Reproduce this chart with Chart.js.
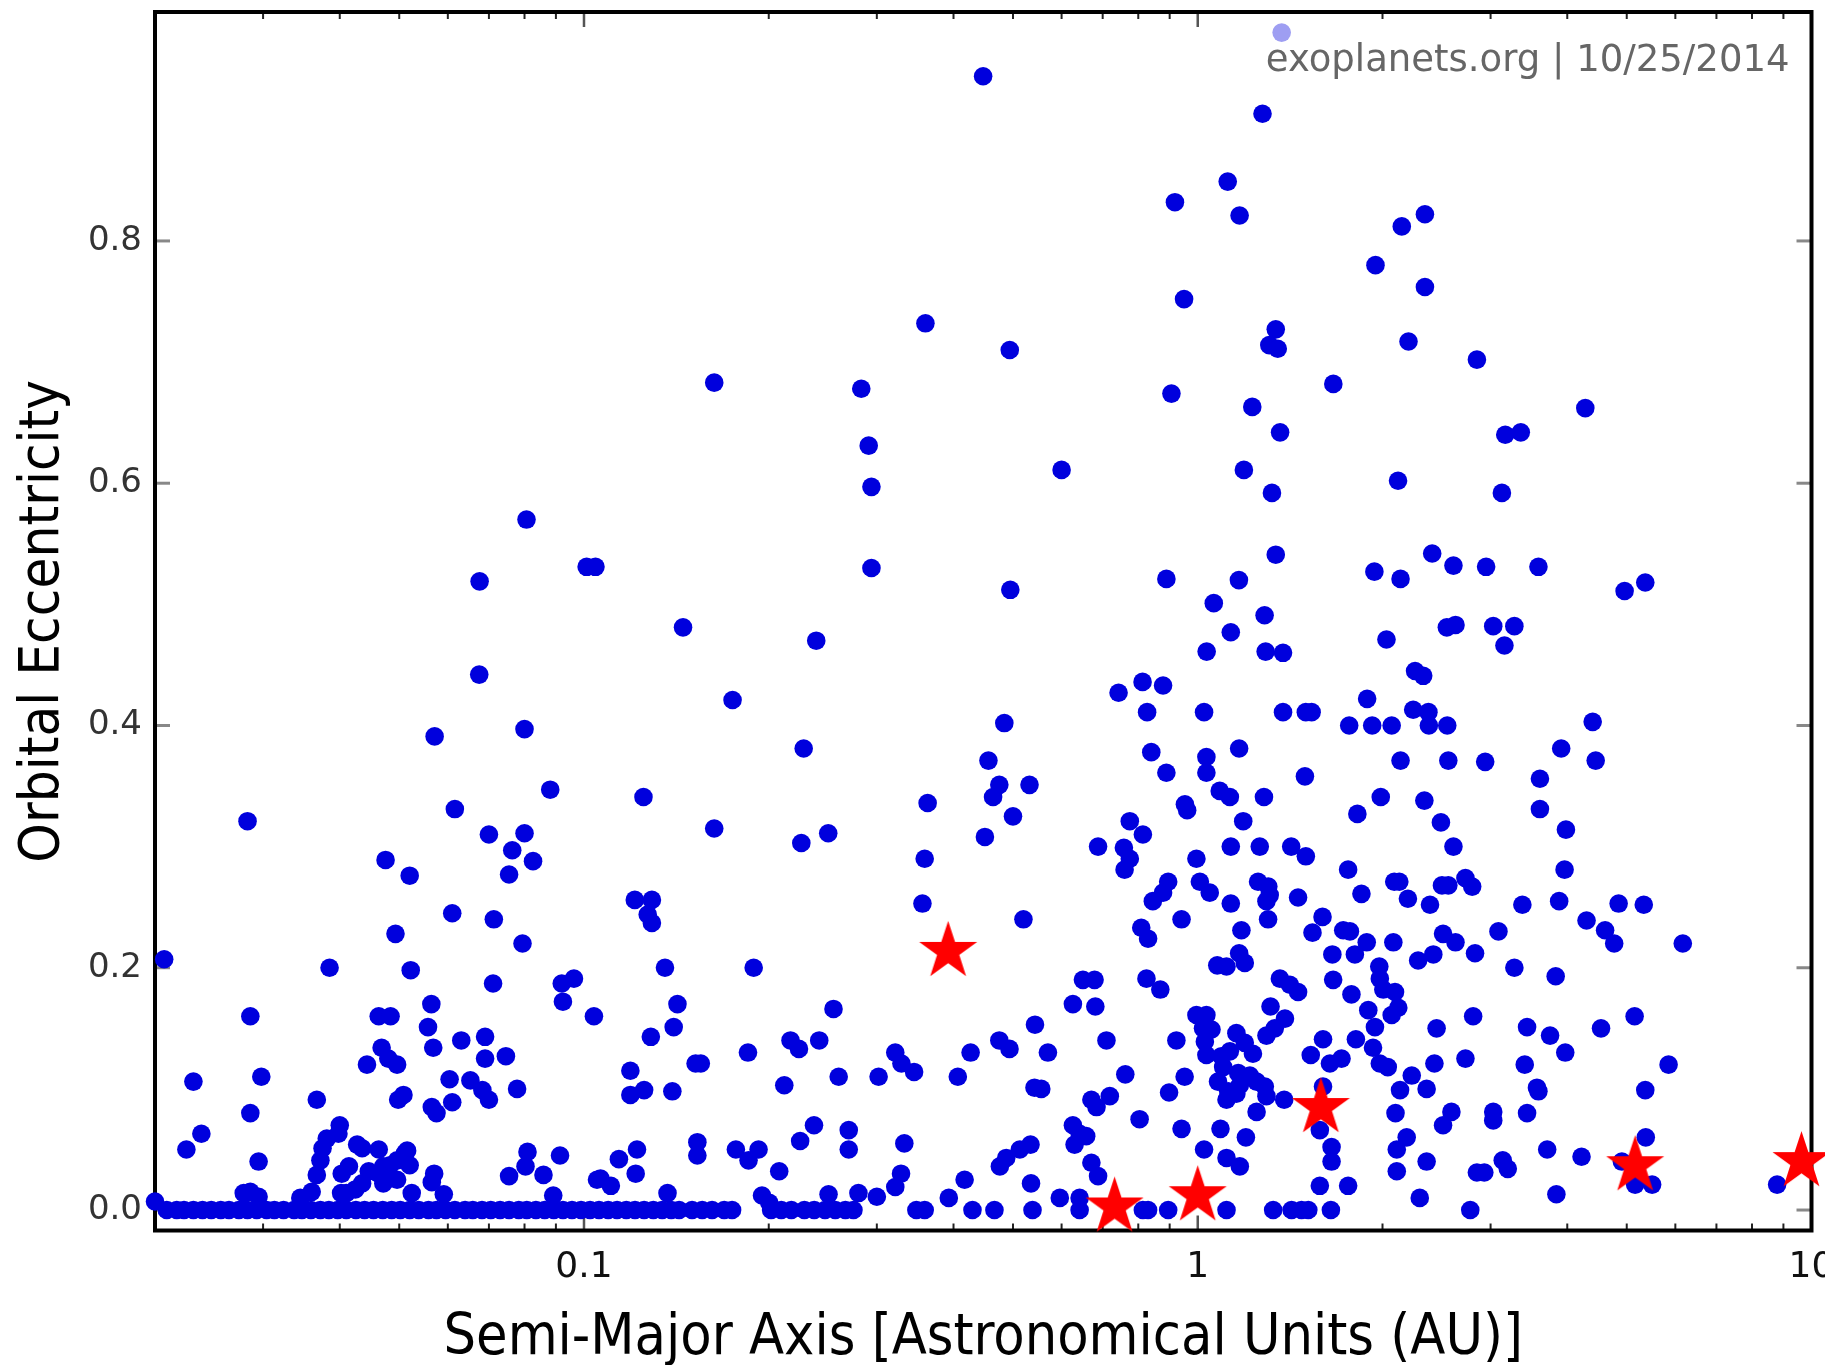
<!DOCTYPE html>
<html>
<head>
<meta charset="utf-8">
<script src="https://cdn.jsdelivr.net/npm/chart.js@4.4.1/dist/chart.umd.min.js"></script>
<style>
  html, body { margin: 0; padding: 0; background: #fff; }
  #wrap { width: 1825px; height: 1365px; }
</style>
</head>
<body>
<div id="wrap"><canvas id="eccChart"></canvas></div>
<script>
// semi-major axis (AU) / eccentricity
const semiMajorAxis = [
  // upper part
  0.447, 0.360, 0.163, 0.283, 0.291, 0.294, 1.275, 1.119, 0.918, 1.170,
  2.345, 2.15, 1.948, 2.345, 0.950, 1.340, 1.308, 1.350, 0.494, 2.205,
  2.85, 0.906, 1.663, 1.227, 4.28, 1.362, 3.17, 3.36, 0.600, 1.189,
  2.12, 1.321, 3.13, 1.370,
  // short periods, e 0.25-0.6
  0.0806, 0.101, 0.1044, 0.0676, 0.0675, 0.0800, 0.0571, 0.0881, 0.0616, 0.0283,
  0.070, 0.080, 0.0764, 0.0826, 0.0755, 0.0475, 0.052,
  0.294, 0.495, 0.145, 0.239, 0.1746, 0.484, 0.228, 0.456, 0.475, 0.532,
  0.464, 0.363, 0.125, 0.500, 0.163, 0.226, 0.250, 0.450, 0.359, 0.356,
  // around 1 AU, e 0.25-0.55
  1.34, 2.41, 2.61, 2.95, 1.94, 2.14, 0.889, 1.167, 1.062, 1.285,
  1.132, 2.546, 2.63, 2.03, 1.034, 1.29, 1.377, 2.26, 2.33, 0.813,
  0.878, 0.743, 1.888, 0.827, 1.024, 1.377, 1.50, 1.533, 2.244, 2.376,
  1.765, 1.924, 2.07, 2.38, 2.55, 1.168, 0.840, 1.033, 2.14, 2.56,
  2.94, 0.889, 1.033, 1.495, 1.086, 1.128, 1.282, 1.987, 2.34, 0.953,
  0.961, 1.82, 1.186, 2.49, 0.775, 0.814, 0.688, 0.758, 0.775, 0.760,
  1.132, 1.262, 1.42, 1.50, 2.61, 0.995, 1.758, 2.09, 2.13, 2.50,
  2.56, 2.73, 2.80, 0.895, 0.878, 0.845, 1.008, 1.046, 1.254, 1.303,
  1.31, 1.294, 1.457, 1.132, 1.848, 2.20, 2.39,
  3.59, 4.96, 5.36, 3.03, 3.28, 3.16, 4.40, 3.91, 4.45, 3.61,
  3.61, 3.98, 3.96, 3.38, 3.88, 4.85, 5.33,
  // hot jupiters, e < 0.25
  0.061, 0.0713, 0.0493, 0.0794, 0.0207, 0.0385, 0.0522, 0.0711, 0.092, 0.0963,
  0.0924, 0.1038, 0.0286, 0.0463, 0.0484, 0.0564, 0.0557, 0.0568, 0.0631, 0.069,
  0.069, 0.0746, 0.0468, 0.048, 0.0496, 0.0443, 0.0604, 0.0653, 0.0683, 0.070,
  0.0778, 0.0367, 0.0498, 0.0508, 0.061, 0.0565, 0.0575, 0.0231, 0.0298, 0.0286,
  0.040, 0.0398, 0.0381, 0.0375, 0.0372, 0.0367, 0.0360, 0.0345, 0.0238, 0.0225,
  0.0295, 0.0286, 0.0279, 0.0295, 0.0427, 0.0435, 0.0463, 0.0515, 0.0414, 0.0403,
  0.0446, 0.0471, 0.0483, 0.0496, 0.0511, 0.0520, 0.0463, 0.0483, 0.0496, 0.0471,
  0.0435, 0.0424, 0.041, 0.0402, 0.0524, 0.057, 0.0565, 0.0591, 0.0809, 0.0803,
  0.0755, 0.0859, 0.0914, 0.0891, 0.105, 0.020,
  // 0.1 - 0.55 AU, e < 0.26
  0.121, 0.129, 0.127, 0.129, 0.520, 0.1355, 0.189, 0.142, 0.140, 0.1285,
  0.255, 0.543, 0.119, 0.119, 0.1253, 0.1393, 0.152, 0.155, 0.185, 0.212,
  0.217, 0.224, 0.2417, 0.260, 0.302, 0.3215, 0.329, 0.345, 0.4065, 0.4265,
  0.475, 0.4935, 0.542, 0.114, 0.122, 0.1214, 0.1064, 0.1106, 0.1368, 0.153,
  0.153, 0.1768, 0.1854, 0.1925, 0.208, 0.225, 0.237, 0.270, 0.270, 0.3326,
  0.3285, 0.3215, 0.280, 0.300, 0.195, 0.2004, 0.2503, 0.393, 0.417, 0.476,
  0.4875, 0.513, 0.534, 0.535,
  // 0.55 - 3 AU, e < 0.25
  0.941, 1.302, 0.809, 0.830, 1.178, 1.597, 1.538, 1.726, 1.77, 1.885,
  1.803, 2.083, 2.51, 2.63, 2.83, 1.657, 2.286, 2.42, 1.976, 1.980,
  2.006, 2.096, 2.122, 2.07, 1.944, 1.896, 1.114, 1.168, 1.193, 0.650,
  0.679, 0.825, 0.869, 0.626, 0.681, 0.710, 0.570, 0.556, 0.762, 0.671,
  0.684, 0.719, 0.804, 0.626, 0.642, 0.658, 0.630, 0.671, 0.688, 0.596,
  0.642, 0.923, 0.952, 0.898, 0.941, 1.024, 1.089, 1.198, 1.114, 1.171,
  1.581, 1.758, 1.652, 1.652, 1.581, 1.60, 1.528, 1.60, 1.642, 1.715,
  1.81, 1.93, 1.98, 2.04, 2.136, 2.232, 2.36, 2.43, 2.10, 2.59,
  2.51, 2.19, 2.11, 2.36, 2.11, 2.30, 2.85, 0.995, 1.033, 1.020,
  1.053, 1.027, 1.033, 1.093, 1.10, 1.079, 1.114, 1.128, 1.156, 1.193,
  1.23, 1.164, 1.216, 1.171, 1.247, 1.286, 1.294, 1.247, 1.156, 1.121,
  1.314, 1.387, 1.294, 1.335, 1.361, 1.413, 1.457, 1.383, 1.076, 1.662,
  1.78, 2.45, 2.73, 2.81,
  // beyond 3 AU, e < 0.25
  3.09, 4.30, 4.61, 4.77, 6.17, 3.28, 3.83, 3.44, 3.75, 3.97,
  4.54, 5.15, 3.41, 5.85, 3.57, 3.59, 5.36, 3.03, 3.03, 3.44,
  5.37, 3.71, 4.22, 3.14, 3.20, 2.93, 3.84, 4.91, 5.16, 5.50,
  8.79
];

const eccentricity = [
  0.936, 0.732, 0.683, 0.678, 0.631, 0.597, 0.905, 0.849, 0.832, 0.821,
  0.822, 0.812, 0.780, 0.762, 0.752, 0.727, 0.714, 0.711, 0.710, 0.717,
  0.702, 0.674, 0.682, 0.663, 0.662, 0.642, 0.640, 0.642, 0.611, 0.611,
  0.602, 0.592, 0.592, 0.972,
  0.570, 0.531, 0.531, 0.519, 0.442, 0.397, 0.391, 0.347, 0.331, 0.321,
  0.310, 0.311, 0.297, 0.288, 0.277, 0.289, 0.276,
  0.530, 0.512, 0.481, 0.470, 0.421, 0.402, 0.381, 0.371, 0.351, 0.351,
  0.341, 0.336, 0.341, 0.325, 0.315, 0.303, 0.311, 0.308, 0.290, 0.253,
  0.541, 0.542, 0.532, 0.531, 0.527, 0.521, 0.521, 0.520, 0.501, 0.491,
  0.477, 0.481, 0.483, 0.471, 0.461, 0.461, 0.460, 0.445, 0.441, 0.436,
  0.433, 0.427, 0.422, 0.411, 0.411, 0.411, 0.411, 0.411, 0.413, 0.411,
  0.400, 0.400, 0.400, 0.400, 0.400, 0.381, 0.378, 0.374, 0.371, 0.371,
  0.370, 0.361, 0.361, 0.358, 0.346, 0.341, 0.341, 0.341, 0.338, 0.335,
  0.330, 0.327, 0.321, 0.320, 0.321, 0.310, 0.300, 0.299, 0.290, 0.281,
  0.300, 0.300, 0.300, 0.292, 0.300, 0.290, 0.281, 0.271, 0.271, 0.268,
  0.268, 0.274, 0.267, 0.271, 0.262, 0.255, 0.271, 0.262, 0.271, 0.267,
  0.260, 0.255, 0.258, 0.253, 0.261, 0.257, 0.252,
  0.531, 0.511, 0.518, 0.482, 0.482, 0.466, 0.403, 0.381, 0.371, 0.356,
  0.331, 0.314, 0.281, 0.252, 0.255, 0.253, 0.252,
  0.245, 0.240, 0.228, 0.220, 0.207, 0.200, 0.198, 0.187, 0.187, 0.191,
  0.172, 0.160, 0.160, 0.160, 0.160, 0.170, 0.151, 0.134, 0.140, 0.143,
  0.125, 0.127, 0.134, 0.125, 0.120, 0.120, 0.108, 0.107, 0.099, 0.091,
  0.100, 0.091, 0.091, 0.095, 0.089, 0.085, 0.080, 0.106, 0.110, 0.080,
  0.070, 0.063, 0.059, 0.051, 0.041, 0.029, 0.015, 0.010, 0.063, 0.050,
  0.040, 0.015, 0.014, 0.011, 0.054, 0.051, 0.050, 0.049, 0.036, 0.030,
  0.032, 0.036, 0.037, 0.041, 0.047, 0.037, 0.030, 0.026, 0.025, 0.022,
  0.022, 0.017, 0.014, 0.014, 0.014, 0.030, 0.023, 0.013, 0.048, 0.036,
  0.028, 0.029, 0.045, 0.012, 0.025, 0.007,
  0.256, 0.256, 0.244, 0.237, 0.240, 0.200, 0.200, 0.170, 0.151, 0.143,
  0.166, 0.153, 0.115, 0.095, 0.099, 0.098, 0.121, 0.121, 0.130, 0.103,
  0.140, 0.133, 0.140, 0.110, 0.110, 0.130, 0.121, 0.114, 0.110, 0.130,
  0.140, 0.133, 0.101, 0.042, 0.050, 0.030, 0.026, 0.020, 0.014, 0.056,
  0.045, 0.050, 0.041, 0.050, 0.032, 0.057, 0.070, 0.066, 0.050, 0.055,
  0.030, 0.019, 0.014, 0.011, 0.012, 0.006, 0.013, 0.010, 0.025, 0.036,
  0.043, 0.050, 0.054, 0.022,
  0.240, 0.240, 0.233, 0.224, 0.231, 0.242, 0.229, 0.231, 0.230, 0.221,
  0.211, 0.221, 0.228, 0.221, 0.212, 0.211, 0.206, 0.211, 0.201, 0.191,
  0.182, 0.180, 0.167, 0.161, 0.151, 0.165, 0.201, 0.212, 0.204, 0.190,
  0.190, 0.191, 0.182, 0.170, 0.168, 0.140, 0.130, 0.100, 0.112, 0.091,
  0.085, 0.094, 0.075, 0.070, 0.063, 0.061, 0.054, 0.039, 0.028, 0.010,
  0.010, 0.140, 0.110, 0.097, 0.067, 0.050, 0.067, 0.060, 0.043, 0.036,
  0.020, 0.020, 0.052, 0.040, 0.066, 0.102, 0.128, 0.141, 0.121, 0.125,
  0.141, 0.134, 0.121, 0.118, 0.099, 0.111, 0.100, 0.121, 0.080, 0.081,
  0.070, 0.060, 0.050, 0.040, 0.032, 0.010, 0.031, 0.161, 0.161, 0.150,
  0.149, 0.139, 0.128, 0.127, 0.118, 0.106, 0.091, 0.131, 0.146, 0.138,
  0.129, 0.113, 0.111, 0.103, 0.106, 0.102, 0.094, 0.081, 0.096, 0.098,
  0.168, 0.158, 0.144, 0.150, 0.191, 0.186, 0.180, 0.091, 0.202, 0.190,
  0.178, 0.150, 0.125, 0.160,
  0.230, 0.239, 0.231, 0.220, 0.220, 0.200, 0.193, 0.151, 0.144, 0.130,
  0.150, 0.160, 0.120, 0.120, 0.101, 0.098, 0.099, 0.081, 0.074, 0.080,
  0.060, 0.050, 0.044, 0.041, 0.034, 0.031, 0.013, 0.040, 0.021, 0.021,
  0.021
];

// planets sitting on e = 0 (circular orbits), semi-major axis in AU
const circularOrbitA = [
  0.0209, 0.0217, 0.0223, 0.0231, 0.0239, 0.0247, 0.0256, 0.0264, 0.0274, 0.0283,
  0.0293, 0.0304, 0.0313, 0.0324, 0.0337, 0.0347, 0.0359, 0.0372, 0.0384, 0.0397,
  0.0410, 0.0425, 0.0439, 0.0454, 0.0470, 0.0486, 0.0502, 0.0520, 0.0538, 0.0558,
  0.0575, 0.0595, 0.0616, 0.0640, 0.0659, 0.0682, 0.0705, 0.0730, 0.0755, 0.0783,
  0.0807, 0.0835, 0.0863, 0.0893, 0.0924, 0.0956, 0.0989, 0.1023, 0.1058, 0.1095,
  0.1132, 0.1172, 0.1211, 0.1253, 0.1297, 0.1341, 0.1387, 0.1429, 0.150, 0.1558,
  0.1617, 0.1692, 0.1743, 0.2018, 0.2096, 0.2177, 0.2286, 0.2372, 0.247, 0.2567,
  0.2666, 0.2748, 0.348, 0.359, 0.4295, 0.4664, 0.538, 0.642, 0.814, 0.830,
  0.895, 1.114, 1.327, 1.422, 1.476, 1.514, 1.648, 2.78
];

// solar system planets (red stars)
const solarNames = ['Mercury', 'Venus', 'Earth', 'Mars', 'Jupiter', 'Saturn'];
const solarA = [0.392, 0.732, 1.0, 1.587, 5.16, 9.63];
const solarE = [0.2135, 0.0025, 0.0118, 0.0846, 0.0366, 0.040];

const xTickValues = [0.1, 1, 10];
const xMinorTicks = [0.02, 0.03, 0.04, 0.05, 0.06, 0.07, 0.08, 0.09,
  0.2, 0.3, 0.4, 0.5, 0.6, 0.7, 0.8, 0.9, 2, 3, 4, 5, 6, 7, 8, 9];
const yTickValues = [0, 0.2, 0.4, 0.6, 0.8];

const dotBlue = 'rgb(0,0,221)';

function makeStar(outer, inner, color) {
  const size = Math.ceil(outer * 2) + 4;
  const c = document.createElement('canvas');
  c.width = size; c.height = size;
  const g = c.getContext('2d');
  g.translate(size / 2, size / 2);
  g.beginPath();
  for (let i = 0; i < 10; i++) {
    const r = i % 2 ? inner : outer;
    const ang = -Math.PI / 2 + i * Math.PI / 5;
    g.lineTo(r * Math.cos(ang), r * Math.sin(ang));
  }
  g.closePath();
  g.fillStyle = color;
  g.fill();
  return c;
}
const starMarker = makeStar(30.5, 11.7, '#ff0000');

const planetPoints = semiMajorAxis.map((a, i) => ({ x: a, y: eccentricity[i] }))
  .concat(circularOrbitA.map(a => ({ x: a, y: 0 })));
const solarPoints = solarA.map((a, i) => ({ x: a, y: solarE[i], name: solarNames[i] }));

// frame with inward ticks, plus the site stamp
const framePlugin = {
  id: 'frame',
  beforeDatasetsDraw(chart) {
    const { ctx, chartArea: area, scales: { x, y } } = chart;
    const seg = (x0, y0, x1, y1) => { ctx.beginPath(); ctx.moveTo(x0, y0); ctx.lineTo(x1, y1); ctx.stroke(); };
    ctx.save();
    ctx.lineWidth = 2;
    ctx.strokeStyle = '#222';
    xMinorTicks.forEach(v => {
      const px = x.getPixelForValue(v);
      seg(px, area.bottom, px, area.bottom - 7);
      seg(px, area.top, px, area.top + 7);
    });
    ctx.lineWidth = 2.5;
    ctx.strokeStyle = '#555';
    xTickValues.forEach(v => {
      const px = x.getPixelForValue(v);
      seg(px, area.bottom, px, area.bottom - 15);
      seg(px, area.top, px, area.top + 15);
    });
    ctx.lineWidth = 3;
    ctx.strokeStyle = '#888';
    yTickValues.forEach(v => {
      const py = y.getPixelForValue(v);
      seg(area.left, py, area.left + 15, py);
      seg(area.right, py, area.right - 15, py);
    });
    ctx.lineWidth = 4;
    ctx.strokeStyle = '#000';
    ctx.strokeRect(area.left, area.top, area.right - area.left, area.bottom - area.top);
    ctx.restore();
  },
  afterDatasetsDraw(chart) {
    const { ctx, chartArea: area } = chart;
    ctx.save();
    ctx.fillStyle = 'rgba(255,255,255,0.62)';
    ctx.fillRect(area.right - 560, area.top + 10, 545, 64);
    ctx.font = '37px "DejaVu Sans"';
    ctx.fillStyle = '#666';
    ctx.textAlign = 'right';
    ctx.textBaseline = 'alphabetic';
    ctx.fillText('exoplanets.org | 10/25/2014', area.right - 22, area.top + 59);
    ctx.restore();
  }
};

new Chart(document.getElementById('eccChart'), {
  type: 'scatter',
  data: {
    datasets: [
      {
        label: 'Solar System',
        data: solarPoints,
        pointStyle: starMarker,
        pointRadius: 30,
        order: 0,
        clip: false
      },
      {
        label: 'Exoplanets',
        data: planetPoints,
        pointRadius: 9.3,
        pointBackgroundColor: dotBlue,
        pointBorderWidth: 0,
        order: 1,
        clip: false
      }
    ]
  },
  options: {
    responsive: true,
    maintainAspectRatio: false,
    animation: false,
    layout: { padding: { left: 0, top: 12, right: 13.5, bottom: 0 }, autoPadding: false },
    plugins: { legend: { display: false }, tooltip: { enabled: false } },
    scales: {
      x: {
        type: 'logarithmic',
        min: 0.02,
        max: 10,
        afterBuildTicks: s => { s.ticks = xTickValues.map(v => ({ value: v })); },
        afterFit: s => { s.height = 134.5; s.paddingLeft = 0; s.paddingRight = 0; },
        grid: { display: false },
        border: { display: false },
        ticks: {
          callback: v => String(v),
          font: { family: 'DejaVu Sans', size: 36 },
          color: '#111',
          padding: 8,
          maxRotation: 0,
          autoSkip: false
        },
        title: {
          display: true,
          text: 'Semi-Major Axis [Astronomical Units (AU)]',
          font: { family: 'DejaVu Sans Condensed', size: 57, lineHeight: 0.9 },
          color: '#000',
          padding: { top: 0, bottom: 0 }
        }
      },
      y: {
        min: -0.0169,
        max: 0.989,
        afterBuildTicks: s => { s.ticks = yTickValues.map(v => ({ value: v })); },
        afterFit: s => { s.width = 155; s.paddingTop = 0; s.paddingBottom = 0; },
        grid: { display: false },
        border: { display: false },
        ticks: {
          callback: v => v.toFixed(1),
          font: { family: 'DejaVu Sans', size: 34 },
          color: '#333',
          padding: 5
        },
        title: {
          display: true,
          text: 'Orbital Eccentricity',
          font: { family: 'DejaVu Sans Condensed', size: 56, lineHeight: 1 },
          color: '#000',
          padding: { top: 15, bottom: 0 }
        }
      }
    }
  },
  plugins: [framePlugin]
});
</script>
</body>
</html>
